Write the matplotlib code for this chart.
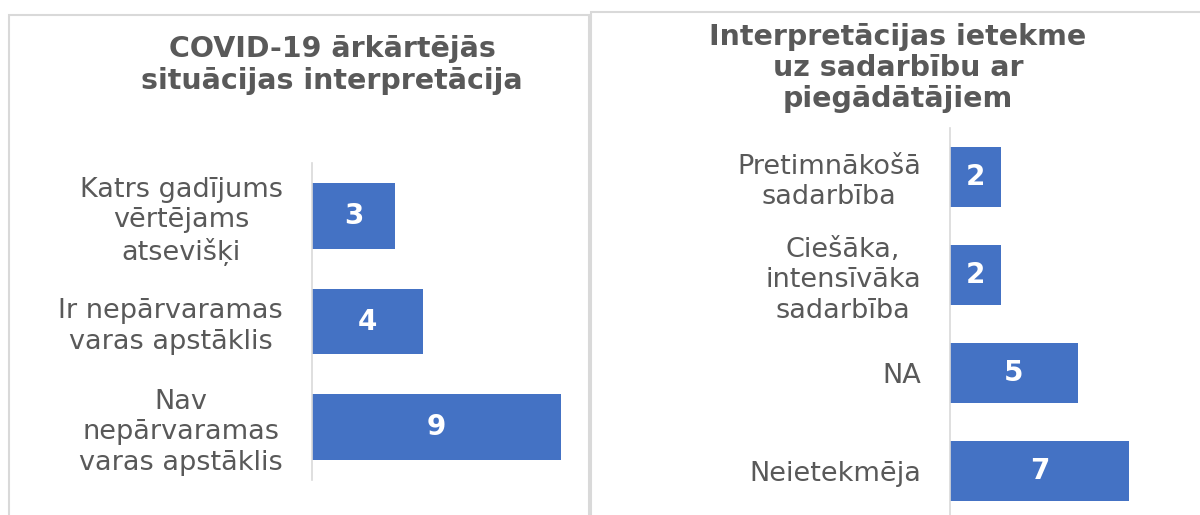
import matplotlib.pyplot as plt
from matplotlib.patches import Rectangle

# left chart
left_title = "COVID-19 ārkārtējās\nsituācijas interpretācija"
left_labels = ["Katrs gadījums\nvērtējams\natsevišķi",
               "Ir nepārvaramas\nvaras apstāklis",
               "Nav\nnepārvaramas\nvaras apstāklis"]
left_values = [3, 4, 9]

# right chart
right_title = "Interpretācijas ietekme\nuz sadarbību ar\npiegādātājiem"
right_labels = ["Pretimnākošā\nsadarbība",
                "Ciešāka,\nintensīvāka\nsadarbība",
                "NA",
                "Neietekmēja"]
right_values = [2, 2, 5, 7]

BAR = '#4472C4'
TEXT = '#595959'
GRID = '#d9d9d9'

W, H = 1200, 515
fig = plt.figure(figsize=(W / 100, H / 100), dpi=100)


def px_box(x0, x1, y_top, y_bot):
    # pixel coords (top-left origin) -> figure fraction box
    return [x0 / W, 1 - y_bot / H, (x1 - x0) / W, (y_bot - y_top) / H]


def panel(x0, y0, x1, y1):
    fig.add_artist(Rectangle((x0 / W, 1 - y1 / H), (x1 - x0) / W, (y1 - y0) / H,
                             transform=fig.transFigure, fill=False,
                             edgecolor=GRID, lw=1.5))


def bar_chart(ax, labels, values, xmax):
    pos = list(range(len(values)))
    ax.barh(pos, values, height=0.62, color=BAR)
    for p, v in zip(pos, values):
        ax.text(v / 2, p, str(v), ha='center', va='center', color='white',
                fontsize=20, fontweight='bold')
    ax.set_yticks(pos)
    ax.set_yticklabels(labels, fontsize=19.5, color=TEXT, multialignment='center',
                       linespacing=1.22)
    ax.tick_params(axis='y', length=0, pad=21)
    ax.set_xticks([])
    ax.set_xlim(0, xmax)
    ax.set_ylim(len(values) - 0.5, -0.5)
    for s in ['top', 'right', 'bottom']:
        ax.spines[s].set_visible(False)
    ax.spines['left'].set_color(GRID)
    ax.spines['left'].set_linewidth(1.2)
    ax.patch.set_alpha(0)


panel(9, 15, 589, 560)
panel(591, 12, 1260, 560)

ax1 = fig.add_axes(px_box(312, 561, 163, 480))
bar_chart(ax1, left_labels, left_values, 9)

ax2 = fig.add_axes(px_box(950, 1129, 128, 520))
bar_chart(ax2, right_labels, right_values, 7)

fig.text(332 / W, 1 - 65 / H, left_title, ha='center', va='center',
         fontsize=20.5, fontweight='bold', color=TEXT, linespacing=1.22)
fig.text(898 / W, 1 - 68 / H, right_title, ha='center', va='center',
         fontsize=20.5, fontweight='bold', color=TEXT, linespacing=1.12)

fig.savefig('out.png', dpi=100)
